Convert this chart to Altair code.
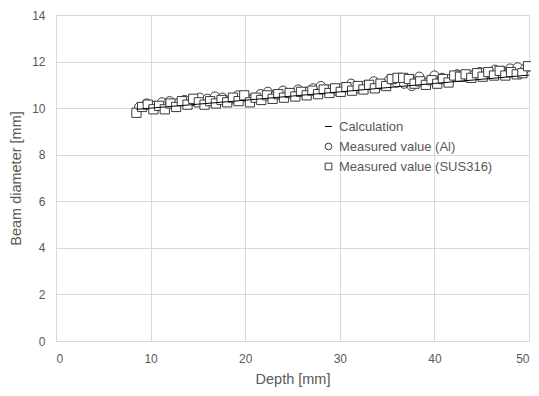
import altair as alt
import pandas as pd

# Measured value (SUS316)
sus_depth = [8.5, 9.1, 9.7, 10.3, 10.9, 11.5, 12.1, 12.7, 13.3, 13.9,
             14.5, 15.1, 15.7, 16.3, 16.9, 17.5, 18.1, 18.7, 19.3, 19.9,
             20.5, 21.1, 21.7, 22.3, 22.9, 23.5, 24.1, 24.7, 25.3, 25.9,
             26.5, 27.1, 27.7, 28.3, 28.9, 29.5, 30.1, 30.7, 31.3, 31.9,
             32.5, 33.1, 33.7, 34.3, 34.9, 35.5, 36.1, 36.7, 37.3, 37.9,
             38.5, 39.1, 39.7, 40.3, 40.9, 41.5, 42.1, 42.7, 43.3, 43.9,
             44.5, 45.1, 45.7, 46.3, 46.9, 47.5, 48.1, 48.7, 49.3, 49.9]
sus_diam = [9.80, 10.05, 10.15, 9.95, 10.10, 9.95, 10.20, 10.05, 10.30, 10.15,
            10.40, 10.25, 10.15, 10.30, 10.20, 10.35, 10.25, 10.45, 10.30, 10.55,
            10.25, 10.45, 10.35, 10.55, 10.40, 10.60, 10.45, 10.65, 10.50, 10.70,
            10.55, 10.75, 10.60, 10.80, 10.65, 10.85, 10.70, 10.90, 10.75, 10.95,
            10.80, 11.00, 10.85, 11.05, 10.95, 11.25, 11.30, 11.30, 11.25, 11.05,
            11.15, 11.00, 11.20, 11.05, 11.25, 11.10, 11.40, 11.35, 11.45, 11.30,
            11.50, 11.35, 11.55, 11.40, 11.60, 11.40, 11.55, 11.45, 11.50, 11.80]

# Measured value (Al)
al_depth = [8.8, 9.6, 10.4, 11.2, 12.0, 12.8, 13.6, 14.4, 15.2, 16.0,
            16.8, 17.6, 18.4, 19.2, 20.0, 20.8, 21.6, 22.4, 23.2, 24.0,
            24.8, 25.6, 26.4, 27.2, 28.0, 28.8, 29.6, 30.4, 31.2, 32.0,
            32.8, 33.6, 34.4, 35.2, 36.0, 36.8, 37.6, 38.4, 39.2, 40.0,
            40.8, 41.6, 42.4, 43.2, 44.0, 44.8, 45.6, 46.4, 47.2, 48.0,
            48.8, 49.6]
al_diam = [10.05, 10.20, 10.10, 10.25, 10.30, 10.20, 10.35, 10.30, 10.45, 10.40,
           10.50, 10.45, 10.35, 10.55, 10.50, 10.40, 10.60, 10.70, 10.55, 10.75,
           10.65, 10.80, 10.70, 10.85, 10.95, 10.80, 10.75, 10.90, 11.05, 10.85,
           11.00, 11.15, 11.00, 11.20, 11.10, 11.05, 10.95, 11.35, 11.10, 11.40,
           11.30, 11.25, 11.45, 11.35, 11.40, 11.55, 11.50, 11.65, 11.60, 11.70,
           11.75, 11.70]

# Calculation
calc_depth = [8.5, 15.0, 20.0, 25.0, 30.0, 35.0, 40.0, 45.0, 50.0]
calc_diam = [9.95, 10.17, 10.34, 10.52, 10.70, 10.88, 11.06, 11.24, 11.42]

series_names = ["Calculation", "Measured value (Al)", "Measured value (SUS316)"]

pts = pd.concat([
    pd.DataFrame({"depth": al_depth, "diam": al_diam, "series": series_names[1]}),
    pd.DataFrame({"depth": sus_depth, "diam": sus_diam, "series": series_names[2]}),
])
calc = pd.DataFrame({"depth": calc_depth, "diam": calc_diam})

grid = "#d9d9d9"
txt = "#595959"

x = alt.X("depth:Q", title="Depth [mm]",
          scale=alt.Scale(domain=[0, 50], nice=False),
          axis=alt.Axis(values=[0, 10, 20, 30, 40, 50], ticks=False,
                        domainColor=grid, gridColor=grid, labelColor=txt,
                        titleColor=txt, labelFontSize=12, titleFontSize=14.5,
                        titleFontWeight="normal", labelPadding=12, titlePadding=8))
y = alt.Y("diam:Q", title="Beam diameter [mm]",
          scale=alt.Scale(domain=[0, 14], nice=False),
          axis=alt.Axis(values=[0, 2, 4, 6, 8, 10, 12, 14], ticks=False,
                        domain=False, gridColor=grid, labelColor=txt,
                        titleColor=txt, labelFontSize=12, titleFontSize=14.5,
                        titleFontWeight="normal", labelPadding=11, titlePadding=8))

line = alt.Chart(calc).mark_line(color="black", strokeWidth=1).encode(x=x, y=y)

legend = alt.Legend(title=None, orient="none", legendX=266, legendY=105,
                    labelFontSize=13, labelColor=txt, symbolSize=45,
                    symbolStrokeWidth=1, rowPadding=6, labelOffset=4)

points = alt.Chart(pts).mark_point(filled=False, fill="white", strokeWidth=1,
                                   opacity=1, size=85).encode(
    x=x, y=y,
    color=alt.Color("series:N",
                    scale=alt.Scale(domain=series_names,
                                    range=["#000000", "#3a3a3a", "#3a3a3a"]),
                    legend=legend),
    shape=alt.Shape("series:N",
                    scale=alt.Scale(domain=series_names,
                                    range=["stroke", "circle", "square"]),
                    legend=legend),
)

chart = alt.layer(points, line).properties(
    width=473, height=326,
    autosize=alt.AutoSizeParams(type="none"),
    padding={"left": 48, "top": 7, "right": 2, "bottom": 46},
).configure_view(stroke=None).configure(font="Liberation Sans")

chart.save("out.html", embed_options={"renderer": "svg", "actions": False})
